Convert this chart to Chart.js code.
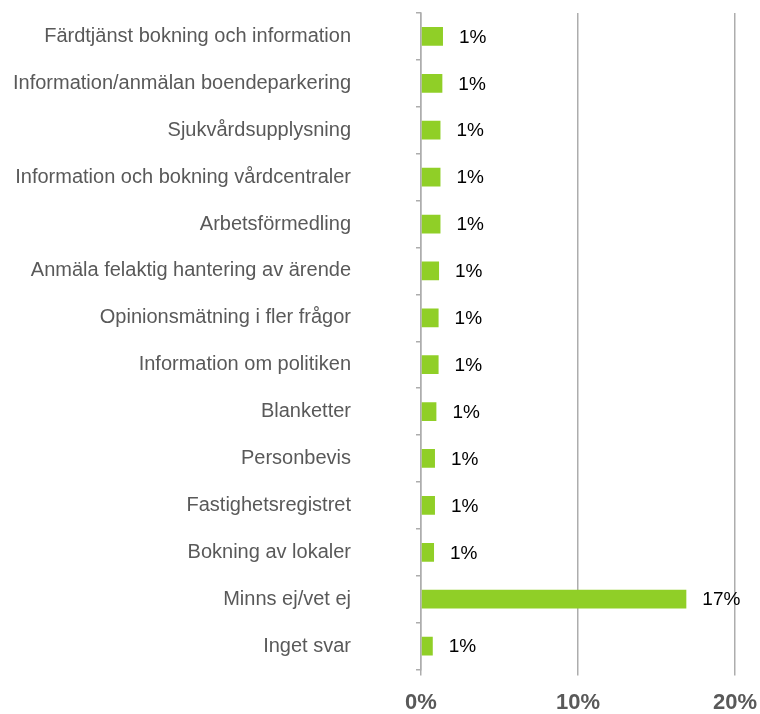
<!DOCTYPE html>
<html>
<head>
<meta charset="utf-8">
<script src="https://cdn.jsdelivr.net/npm/chart.js@4/dist/chart.umd.min.js"></script>
<style>
  html, body { margin: 0; padding: 0; background: #fff; }
  #wrap { width: 760px; height: 714px; }
</style>
</head>
<body>
<div id="wrap"><canvas id="chart" width="760" height="714"></canvas></div>
<script>
// data (percent)
const categories = [
    'Färdtjänst bokning och information',
    'Information/anmälan boendeparkering',
    'Sjukvårdsupplysning',
    'Information och bokning vårdcentraler',
    'Arbetsförmedling',
    'Anmäla felaktig hantering av ärende',
    'Opinionsmätning i fler frågor',
    'Information om politiken',
    'Blanketter',
    'Personbevis',
    'Fastighetsregistret',
    'Bokning av lokaler',
    'Minns ej/vet ej',
    'Inget svar'
];
const shares = [1.4, 1.36, 1.24, 1.24, 1.24, 1.15, 1.12, 1.12, 0.98, 0.89, 0.89, 0.83, 16.9, 0.75];
const valueLabels = ['1%', '1%', '1%', '1%', '1%', '1%', '1%', '1%', '1%', '1%', '1%', '1%', '17%', '1%'];
const xTickValues = [0, 10, 20];

const GRID = '#ADADAD';
const TEXT = '#595959';

// value labels next to each bar
const valueLabelPlugin = {
    id: 'valueLabels',
    afterDatasetsDraw(chart) {
        const ctx = chart.ctx;
        const meta = chart.getDatasetMeta(0);
        ctx.save();
        ctx.font = '19px "Liberation Sans"';
        ctx.fillStyle = '#000';
        ctx.textBaseline = 'middle';
        ctx.textAlign = 'left';
        meta.data.forEach((bar, i) => {
            ctx.fillText(valueLabels[i], bar.x + 16, bar.y + 1);
        });
        ctx.restore();
    }
};

new Chart(document.getElementById('chart'), {
    type: 'bar',
    data: {
        labels: categories,
        datasets: [{
            data: shares,
            backgroundColor: '#90CF27',
            borderWidth: 0,
            barPercentage: 0.4,
            categoryPercentage: 1
        }]
    },
    options: {
        indexAxis: 'y',
        responsive: false,
        animation: false,
        events: [],
        layout: { padding: { top: 13, left: 8, right: 25, bottom: 0 } },
        plugins: { legend: { display: false }, tooltip: { enabled: false } },
        scales: {
            x: {
                min: 0,
                max: 20,
                afterBuildTicks(scale) { scale.ticks = xTickValues.map(v => ({ value: v })); },
                afterFit(scale) {
                    scale.height = 44.5;
                    scale.paddingLeft = 0;
                    scale.paddingRight = 0;
                },
                grid: { color: GRID, lineWidth: 1.5, tickLength: 6, drawTicks: true },
                border: { display: false },
                ticks: {
                    color: TEXT,
                    padding: 16,
                    font: { family: 'Liberation Sans', size: 22, weight: 'bold', lineHeight: 1 },
                    callback: v => v + '%'
                }
            },
            y: {
                afterFit(scale) {
                    scale.width = 421 - 8;
                    scale.paddingTop = 0;
                    scale.paddingBottom = 0;
                },
                grid: { drawOnChartArea: false, color: GRID, lineWidth: 1.5, tickLength: 5, offset: true },
                border: { display: true, color: GRID, width: 1.5 },
                ticks: {
                    color: TEXT,
                    padding: 65,
                    font: { family: 'Liberation Sans', size: 20 }
                }
            }
        }
    },
    plugins: [valueLabelPlugin]
});
</script>
</body>
</html>
